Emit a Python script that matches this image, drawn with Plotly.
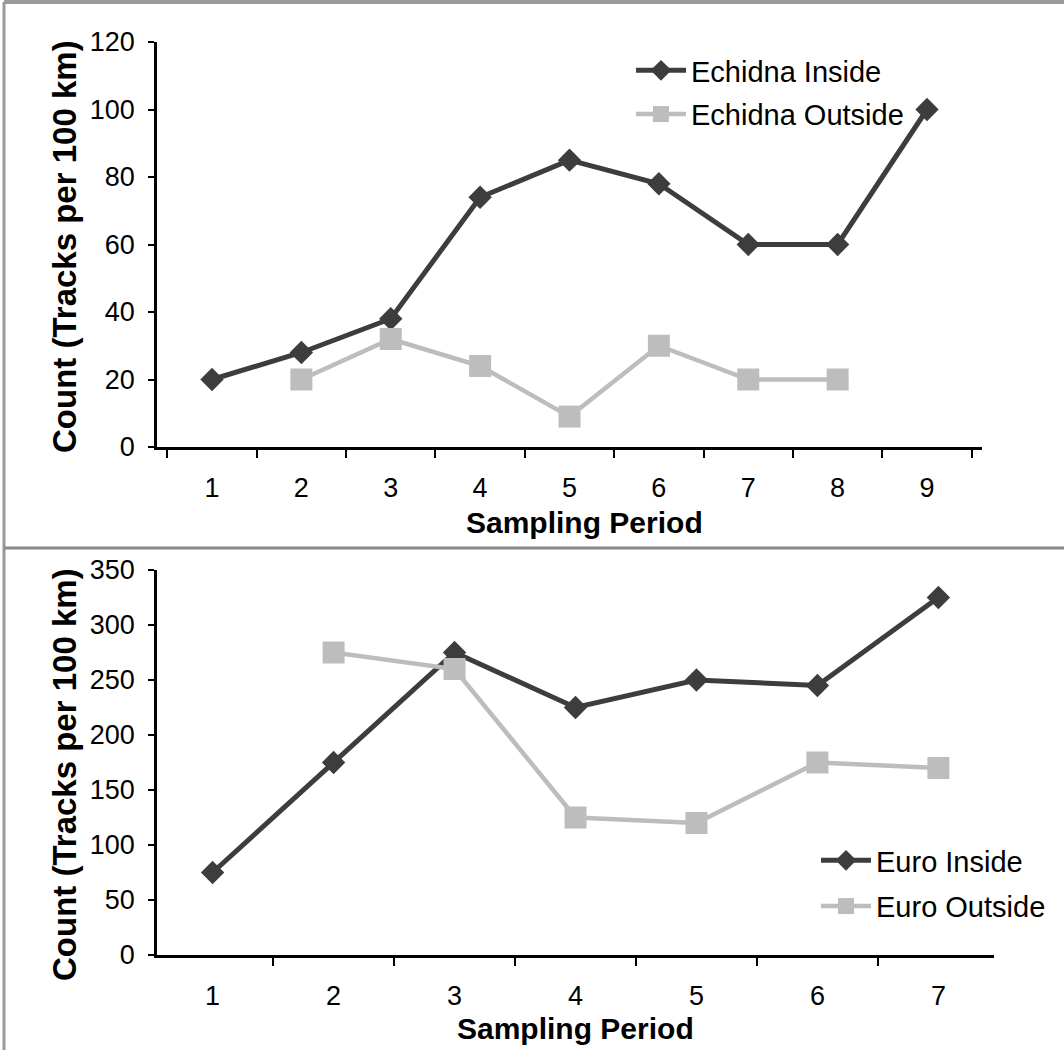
import plotly.graph_objects as go

# ---- data ----
echidna_periods = ["1", "2", "3", "4", "5", "6", "7", "8", "9"]
echidna_inside = [20, 28, 38, 74, 85, 78, 60, 60, 100]
echidna_outside = [None, 20, 32, 24, 9, 30, 20, 20, None]

euro_periods = ["1", "2", "3", "4", "5", "6", "7"]
euro_inside = [75, 175, 275, 225, 250, 245, 325]
euro_outside = [None, 275, 260, 125, 120, 175, 170]

top_yticks = [0, 20, 40, 60, 80, 100, 120]
bot_yticks = [0, 50, 100, 150, 200, 250, 300, 350]

W, H = 1064, 1050
DARK = "#3d3d3d"
LIGHT = "#bdbdbd"
FONT = "Liberation Sans, Arial, sans-serif"


def px(x):
    return x / W


def py(y):
    return 1 - y / H


fig = go.Figure()

fig.add_trace(go.Scatter(
    x=echidna_periods, y=echidna_inside, name="Echidna Inside", mode="lines+markers",
    line=dict(color=DARK, width=5), marker=dict(symbol="diamond", size=18, color=DARK),
    xaxis="x", yaxis="y", legend="legend", legendgroup="a"))
fig.add_trace(go.Scatter(
    x=echidna_periods, y=echidna_outside, name="Echidna Outside", mode="lines+markers",
    line=dict(color=LIGHT, width=4.5), marker=dict(symbol="square", size=22, color=LIGHT),
    xaxis="x", yaxis="y", legend="legend", legendgroup="b", connectgaps=False))
fig.add_trace(go.Scatter(
    x=euro_periods, y=euro_inside, name="Euro Inside", mode="lines+markers",
    line=dict(color=DARK, width=5), marker=dict(symbol="diamond", size=18, color=DARK),
    xaxis="x2", yaxis="y2", legend="legend2", legendgroup="c"))
fig.add_trace(go.Scatter(
    x=euro_periods, y=euro_outside, name="Euro Outside", mode="lines+markers",
    line=dict(color=LIGHT, width=4.5), marker=dict(symbol="square", size=22, color=LIGHT),
    xaxis="x2", yaxis="y2", legend="legend2", legendgroup="d"))

tick_font = dict(family=FONT, size=27, color="#000")

xcommon = dict(type="category", tickson="boundaries", ticks="outside", ticklen=8,
               tickwidth=2, tickcolor="#000", showline=True, linecolor="#000",
               linewidth=2.5, showgrid=False, zeroline=False, tickfont=tick_font,
               ticklabelstandoff=15, automargin=False, fixedrange=True)
ycommon = dict(ticks="outside", ticklen=6, tickwidth=2, tickcolor="#000",
               showline=True, linecolor="#000", linewidth=2.5, showgrid=False,
               zeroline=False, tickfont=tick_font, ticklabelstandoff=8,
               automargin=False, fixedrange=True)

fig.update_layout(
    width=W, height=H,
    template="none",
    paper_bgcolor="white", plot_bgcolor="white",
    margin=dict(l=0, r=0, t=0, b=0),
    font=dict(family=FONT, color="#000"),
    xaxis=dict(domain=[px(157), px(982)], anchor="y",
               categoryorder="array", categoryarray=echidna_periods, **xcommon),
    yaxis=dict(domain=[py(447), py(42)], anchor="x", range=[0, 120],
               tickvals=top_yticks, **ycommon),
    xaxis2=dict(domain=[px(157), px(994)], anchor="y2",
                categoryorder="array", categoryarray=euro_periods, **xcommon),
    yaxis2=dict(domain=[py(955), py(570)], anchor="x2", range=[0, 350],
                tickvals=bot_yticks, **ycommon),
    legend=dict(x=px(631), y=py(45), xanchor="left", yanchor="top",
                bgcolor="rgba(0,0,0,0)", borderwidth=0, itemwidth=50,
                tracegroupgap=3, font=dict(family=FONT, size=29, color="#000")),
    legend2=dict(x=px(816), y=py(835), xanchor="left", yanchor="top",
                 bgcolor="rgba(0,0,0,0)", borderwidth=0, itemwidth=50,
                 tracegroupgap=5, font=dict(family=FONT, size=29, color="#000")),
    showlegend=True,
)

title_font = dict(family=FONT, size=30, color="#000")
ytitle_font = dict(family=FONT, size=33, color="#000")
annots = [
    dict(text="<b>Sampling Period</b>", x=px(584), y=py(522)),
    dict(text="<b>Sampling Period</b>", x=px(575), y=py(1028)),
    dict(text="<b>Count (Tracks per 100 km)</b>", x=px(64), y=py(247), textangle=-90),
    dict(text="<b>Count (Tracks per 100 km)</b>", x=px(64), y=py(775), textangle=-90),
]
for a in annots:
    fig.add_annotation(xref="paper", yref="paper", showarrow=False,
                       xanchor="center", yanchor="middle",
                       font=ytitle_font if a.get("textangle") else title_font, **a)

# frame lines: outer border and panel divider
fig.add_shape(type="line", xref="paper", yref="paper", x0=px(4), x1=1, y0=py(2), y1=py(2),
              line=dict(color="#9a9a9a", width=4))
fig.add_shape(type="line", xref="paper", yref="paper", x0=px(4), x1=px(4), y0=0, y1=py(2),
              line=dict(color="#9a9a9a", width=3))
fig.add_shape(type="line", xref="paper", yref="paper", x0=px(4), x1=1, y0=py(548), y1=py(548),
              line=dict(color="#8a8a8a", width=3))

# remove the browser's default 8px body margin so the figure fills the window exactly
fig.write_html("out.html", config={"displayModeBar": False},
               post_script="document.body.style.margin='0';")
